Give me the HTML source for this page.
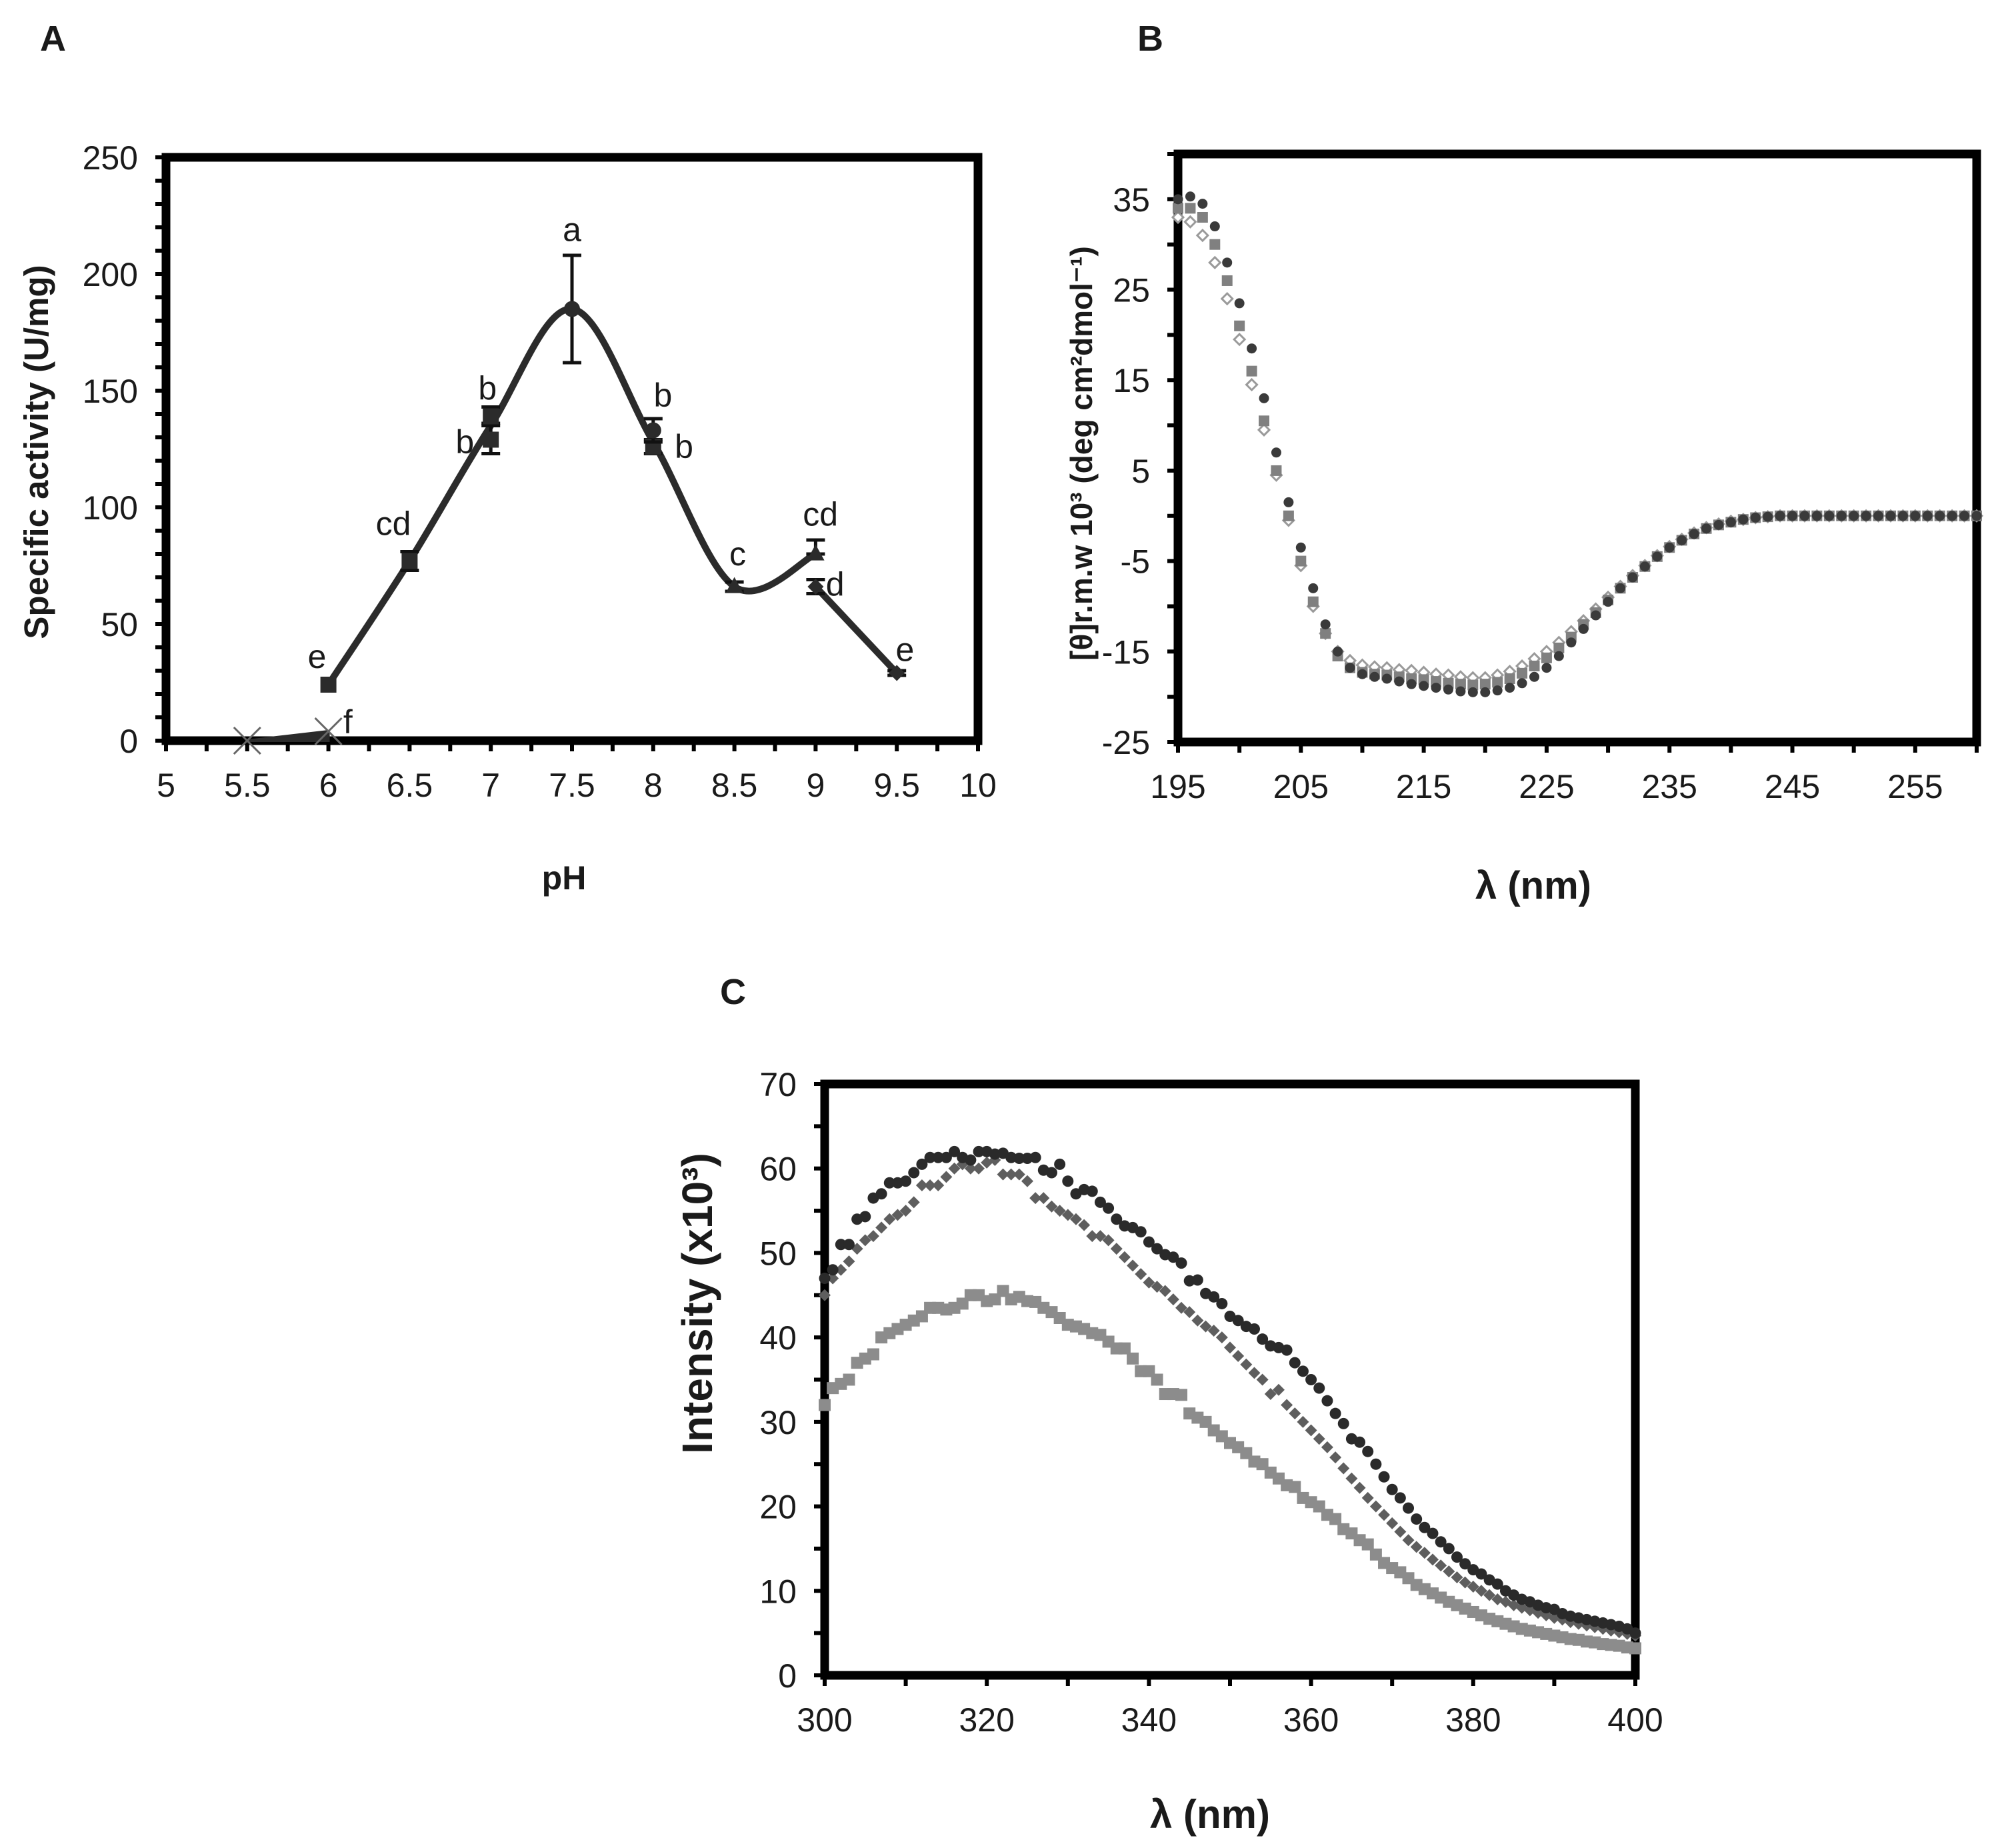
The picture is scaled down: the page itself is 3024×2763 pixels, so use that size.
<!DOCTYPE html>
<html><head><meta charset="utf-8">
<style>
html,body{margin:0;padding:0;background:#fff;}
svg{display:block;}
text{font-family:"Liberation Sans",Arial,sans-serif;fill:#1a1a1a;}
.tick{font-size:50px;}
.title{font-size:44px;font-weight:bold;}
.panel{font-size:54px;font-weight:bold;}
</style></head>
<body>
<svg id="fig" width="3024" height="2763" viewBox="0 0 3024 2763" xmlns="http://www.w3.org/2000/svg">
<text class="panel" x="60" y="76">A</text>
<text class="panel" x="1706" y="76">B</text>
<text class="panel" x="1080" y="1506">C</text>
<g id="gA"></g>
<g id="gB"></g>
<g id="gC"></g>
</svg>
<script>
// ---------- Panel A data ----------
const phCurve = [6, 6.5, 7, 7.5, 8, 8.5, 9];
const actCurve = [24, 77, 135, 185, 128, 66, 80];
const phTail = [9, 9.5];
const actTail = [66, 29];
const phLow = [5.5, 6];
const actLow = [0, 4];
const phPts = [6, 6.5, 7, 7, 7.5, 8, 8, 8.5, 9, 9, 9.5];
const actPts = [24, 77, 129, 139, 185, 126, 133, 66, 80, 66, 29];
const errLo = [0, 4, 6, 3, 23, 3, 5, 2, 0, 3, 1];
const errHi = [0, 4, 6, 4, 23, 3, 5, 2, 6, 3, 1];
const markShape = ['sq','sq','sq','sq','ci','sq','ci','tr','tr','di','di'];
const letterText = ['a','b','b','b','b','cd','c','cd','d','e','e','f'];
const letterPh = [7.5, 6.98, 6.84, 8.06, 8.19, 6.4, 8.52, 9.03, 9.12, 5.93, 9.55, 6.12];
const letterAct = [219, 151, 128, 148, 126, 93, 80, 97, 67, 36, 39, 8];
const aXTicks = ['5','5.5','6','6.5','7','7.5','8','8.5','9','9.5','10'];
const aYTicks = ['0','50','100','150','200','250'];

// ---------- Panel B data (wavelength 195..260 nm) ----------
const bWave = [];
for (let w = 195; w <= 260; w++) bWave.push(w);
const bDark = [35,35.3,34.5,32,28,23.5,18.5,13,7,1.5,-3.5,-8,-12,-15,-16.8,-17.5,-17.8,-18,-18.3,-18.6,-18.8,-19,-19.2,-19.4,-19.5,-19.5,-19.3,-19,-18.5,-17.8,-16.8,-15.5,-14,-12.5,-11,-9.5,-8,-6.8,-5.6,-4.5,-3.5,-2.7,-2,-1.4,-1,-0.7,-0.4,-0.2,-0.1,0,0,0,0,0,0,0,0,0,0,0,0,0,0,0,0,0];
const bGrey = [34,34,33,30,26,21,16,10.5,5,0,-5,-9.5,-13,-15.5,-16.8,-17.3,-17.5,-17.6,-17.8,-18,-18.1,-18.3,-18.5,-18.6,-18.7,-18.6,-18.4,-18,-17.4,-16.6,-15.7,-14.6,-13.4,-12,-10.7,-9.3,-8,-6.8,-5.6,-4.5,-3.5,-2.7,-2,-1.4,-1,-0.7,-0.4,-0.2,-0.1,0,0,0,0,0,0,0,0,0,0,0,0,0,0,0,0,0];
const bOpen = [33,32.5,31,28,24,19.5,14.5,9.5,4.5,-0.5,-5.5,-10,-13,-15,-16,-16.5,-16.7,-16.8,-17,-17.1,-17.3,-17.5,-17.6,-17.8,-17.9,-17.9,-17.6,-17.2,-16.6,-15.8,-15,-14,-12.8,-11.6,-10.3,-9,-7.8,-6.6,-5.5,-4.4,-3.4,-2.6,-1.9,-1.3,-0.9,-0.6,-0.4,-0.2,-0.1,0,0,0,0,0,0,0,0,0,0,0,0,0,0,0,0,0];
const bXTicks = ['195','205','215','225','235','245','255'];
const bYTicks = ['-25','-15','-5','5','15','25','35'];

// ---------- Panel C data (300..400 nm) ----------
const cWave = [];
for (let w = 300; w <= 400; w++) cWave.push(w);
const cDark = [47,48,51,51,54,54.3,56.5,57,58.3,58.3,58.5,59.5,60.5,61.3,61.3,61.3,62,61.3,61,62,62,61.7,61.8,61.3,61.2,61.2,61.3,59.8,59.5,60.5,58.5,57,57.5,57.3,56,55.3,54,53.2,53,52.5,51.3,50.5,49.8,49.5,48.8,46.7,46.8,45.2,44.8,44,42.5,42,41.3,41,39.8,39,38.8,38.5,37,36,35,34,32.5,31,29.8,28,27.6,26.5,25,23.5,22,21,19.8,18.5,17.5,16.8,15.8,15,14,13.2,12.5,12,11.3,10.8,10,9.5,9,8.7,8.3,8,7.8,7.3,7,6.8,6.6,6.4,6.2,6,5.8,5.5,5];
const cMid = [45,47,48,49,50.5,51.5,52,53,54,54.5,55,56,58,58,58,59,60,60.5,60,60,60.7,61,59.3,59.3,59.3,58.5,56.5,56.5,55.5,55,54.5,54,53.3,52,52,51.5,50.5,49.5,48.5,47.5,46.5,46,45.5,44.5,43.5,43,42,41.3,40.8,40,38.8,37.8,36.8,35.8,35,33.3,33.8,32,31,30,29,28,27,25.8,24.5,23.3,22.2,21,20,19,18,17,16,15.2,14.5,13.7,13,12.3,11.6,11,10.5,10,9.5,9,8.7,8.3,8,7.7,7.4,7.1,6.8,6.6,6.3,6.1,5.9,5.7,5.5,5.3,5.1,4.9,4.7];
const cLight = [32,34,34.5,35,37,37.5,38,40,40.5,41,41.5,42,42.5,43.5,43.5,43.3,43.5,44,45,45,44.3,44.5,45.5,44.5,44.8,44.3,44.2,43.5,43,42.3,41.5,41.3,41,40.5,40.3,39.5,38.7,38.7,37.5,36,36,35,33.3,33.3,33.2,31,30.5,30,29,28.3,27.5,27,26.3,25.3,25,24,23.3,22.5,22.3,21,20.5,20,19,18.5,17.3,16.8,16,15.5,14.3,13.3,12.7,12.2,11.5,10.7,10.2,9.7,9.2,8.7,8.3,7.9,7.5,7.1,6.7,6.4,6.1,5.8,5.5,5.3,5.1,4.9,4.7,4.5,4.3,4.2,4,3.9,3.7,3.6,3.5,3.3,3.2];
const cXTicks = ['300','320','340','360','380','400'];
const cYTicks = ['0','10','20','30','40','50','60','70'];

const NS = 'http://www.w3.org/2000/svg';
function mk(parent, tag, attrs) {
  const e = document.createElementNS(NS, tag);
  for (const k in attrs) e.setAttribute(k, attrs[k]);
  parent.appendChild(e);
  return e;
}
function lin(d0, d1, r0, r1) { return v => r0 + (v - d0) * (r1 - r0) / (d1 - d0); }

function frame(g, L, T, R, B, xs, ys, xMinor, yMinor, xLab, yLab, name) {
  for (const v of xMinor) {
    const t = mk(g, 'line', {x1: xs(v), x2: xs(v), y1: B, y2: B + 16, stroke: '#000', 'stroke-width': 6});
    
    
  }
  for (const v of yMinor) {
    const t = mk(g, 'line', {x1: L - 16, x2: L, y1: ys(v), y2: ys(v), stroke: '#000', 'stroke-width': 6});
    
    
  }
  for (const s of xLab) {
    const t = mk(g, 'text', {x: xs(parseFloat(s)), y: B + 84, 'text-anchor': 'middle', class: 'tick'});
    t.textContent = s;
    
    
  }
  for (const s of yLab) {
    const t = mk(g, 'text', {x: L - 42, y: ys(parseFloat(s)) + 18, 'text-anchor': 'end', class: 'tick'});
    t.textContent = s;
    
    
  }
  const r = mk(g, 'rect', {x: L, y: T, width: R - L, height: B - T, fill: 'none', stroke: '#000', 'stroke-width': 13});
  
  
}

function marker(g, shape, x, y, s, fill, stroke) {
  let e;
  if (shape === 'ci') e = mk(g, 'circle', {cx: x, cy: y, r: s, fill: fill});
  else if (shape === 'sq') e = mk(g, 'rect', {x: x - s, y: y - s, width: 2 * s, height: 2 * s, fill: fill});
  else if (shape === 'tr') e = mk(g, 'polygon', {points: `${x},${y - s * 1.2} ${x - s * 1.1},${y + s * 0.8} ${x + s * 1.1},${y + s * 0.8}`, fill: fill});
  else if (shape === 'di') e = mk(g, 'polygon', {points: `${x},${y - s} ${x + s},${y} ${x},${y + s} ${x - s},${y}`, fill: fill});
  if (stroke) { e.setAttribute('stroke', stroke); e.setAttribute('stroke-width', 3); }
  return e;
}

function smoothPath(pts) {
  let d = `M${pts[0][0]},${pts[0][1]}`;
  for (let i = 0; i < pts.length - 1; i++) {
    const p0 = pts[Math.max(0, i - 1)], p1 = pts[i], p2 = pts[i + 1], p3 = pts[Math.min(pts.length - 1, i + 2)];
    const c1x = p1[0] + (p2[0] - p0[0]) / 6, c1y = p1[1] + (p2[1] - p0[1]) / 6;
    const c2x = p2[0] - (p3[0] - p1[0]) / 6, c2y = p2[1] - (p3[1] - p1[1]) / 6;
    d += ` C${c1x},${c1y} ${c2x},${c2y} ${p2[0]},${p2[1]}`;
  }
  return d;
}

// ================= Panel A =================
(function () {
  const g = document.getElementById('gA');
  const L = 249, R = 1467, T = 236, B = 1111;
  const xs = lin(5, 10, L, R), ys = lin(0, 250, B, T);
  const xm = []; for (let v = 5; v <= 10.001; v += 0.25) xm.push(v);
  const ym = []; for (let v = 0; v <= 250; v += 10) ym.push(v);
  frame(g, L, T, R, B, xs, ys, xm, ym, aXTicks, aYTicks, 'panel-a');
  const pc = mk(g, 'path', {d: smoothPath(phCurve.map((p, i) => [xs(p), ys(actCurve[i])])), fill: 'none', stroke: '#2b2b2b', 'stroke-width': 10});
  
  
  const pt = mk(g, 'path', {d: smoothPath(phTail.map((p, i) => [xs(p), ys(actTail[i])])), fill: 'none', stroke: '#2b2b2b', 'stroke-width': 10});
  
  
  const pl = mk(g, 'path', {d: `M${xs(phLow[0])},${ys(actLow[0])} L${xs(phLow[1])},${ys(actLow[1])} L${xs(phLow[1])},${ys(actLow[0])}Z`, fill: '#2b2b2b', stroke: '#2b2b2b', 'stroke-width': 4});
  
  
  phLow.forEach((p, i) => {
    const x = xs(p), y = ys(actLow[i]);
    const c = mk(g, 'path', {d: `M${x - 20},${y - 20} L${x + 20},${y + 20} M${x - 20},${y + 20} L${x + 20},${y - 20}`, stroke: '#666', 'stroke-width': 3});
    
    
  });
  phPts.forEach((p, i) => {
    const x = xs(p), y = ys(actPts[i]);
    if (errLo[i] + errHi[i] > 0) {
      const y1 = ys(actPts[i] - errLo[i]), y2 = ys(actPts[i] + errHi[i]);
      const eb = mk(g, 'path', {d: `M${x},${y1} L${x},${y2} M${x - 14},${y1} L${x + 14},${y1} M${x - 14},${y2} L${x + 14},${y2}`, stroke: '#111', 'stroke-width': 5, fill: 'none'});
      
      
    }
    const m = marker(g, markShape[i], x, y, 12, '#2b2b2b');
    
    
  });
  letterText.forEach((s, i) => {
    const t = mk(g, 'text', {x: xs(letterPh[i]), y: ys(letterAct[i]) + 17, 'text-anchor': 'middle', class: 'tick'});
    t.textContent = s;
    
    
  });
  const yt = mk(g, 'text', {x: 0, y: 0, class: 'title', 'text-anchor': 'middle', style: 'font-size:51px', transform: 'translate(72,678) rotate(-90)'});
  yt.textContent = 'Specific  activity (U/mg)';
  
  
  const xt = mk(g, 'text', {x: 846, y: 1334, class: 'title', 'text-anchor': 'middle', style: 'font-size:50px'});
  xt.textContent = 'pH';
  
  
})();

// ================= Panel B =================
(function () {
  const g = document.getElementById('gB');
  const L = 1767, R = 2965, T = 231, B = 1113;
  const xs = lin(195, 260, L, R), ys = lin(-25, 40, B, T);
  const xm = []; for (let v = 195; v <= 260; v += 5) xm.push(v);
  const ym = []; for (let v = -25; v <= 40; v += 5) ym.push(v);
  frame(g, L, T, R, B, xs, ys, xm, ym, bXTicks, bYTicks, 'panel-b');
  bWave.forEach((w, i) => {
    const m = marker(g, 'di', xs(w), ys(bOpen[i]), 8, '#fff', '#9a9a9a');
    
    
  });
  bWave.forEach((w, i) => {
    const m = marker(g, 'sq', xs(w), ys(bGrey[i]), 8, '#808080');
    
    
  });
  bWave.forEach((w, i) => {
    const m = marker(g, 'ci', xs(w), ys(bDark[i]), 7.5, '#3a3a3a');
    
    
  });
  const yt = mk(g, 'text', {x: 0, y: 0, class: 'title', 'text-anchor': 'middle', style: 'font-size:46px', transform: 'translate(1638,680) rotate(-90)'});
  yt.textContent = '[θ]r.m.w 10³ (deg cm²dmol⁻¹)';
  
  
  const xt = mk(g, 'text', {x: 2300, y: 1348, class: 'title', 'text-anchor': 'middle', style: 'font-size:58px'});
  xt.textContent = 'λ (nm)';
  
  
})();

// ================= Panel C =================
(function () {
  const g = document.getElementById('gC');
  const L = 1237, R = 2453, T = 1626, B = 2513;
  const xs = lin(300, 400, L, R), ys = lin(0, 70, B, T);
  const xm = []; for (let v = 300; v <= 400; v += 10) xm.push(v);
  const ym = []; for (let v = 0; v <= 70; v += 5) ym.push(v);
  frame(g, L, T, R, B, xs, ys, xm, ym, cXTicks, cYTicks, 'panel-c');
  cWave.forEach((w, i) => {
    const m = marker(g, 'sq', xs(w), ys(cLight[i]), 9, '#8c8c8c');
    
    
  });
  cWave.forEach((w, i) => {
    const m = marker(g, 'di', xs(w), ys(cMid[i]), 9, '#5e5e5e');
    
    
  });
  cWave.forEach((w, i) => {
    const m = marker(g, 'ci', xs(w), ys(cDark[i]), 8.5, '#2a2a2a');
    
    
  });
  const yt = mk(g, 'text', {x: 0, y: 0, class: 'title', 'text-anchor': 'middle', style: 'font-size:64px', transform: 'translate(1068,1955) rotate(-90)'});
  yt.textContent = 'Intensity (x10³)';
  
  
  const xt = mk(g, 'text', {x: 1815, y: 2742, class: 'title', 'text-anchor': 'middle', style: 'font-size:60px'});
  xt.textContent = 'λ (nm)';
  
  
})();
</script>
</body></html>
